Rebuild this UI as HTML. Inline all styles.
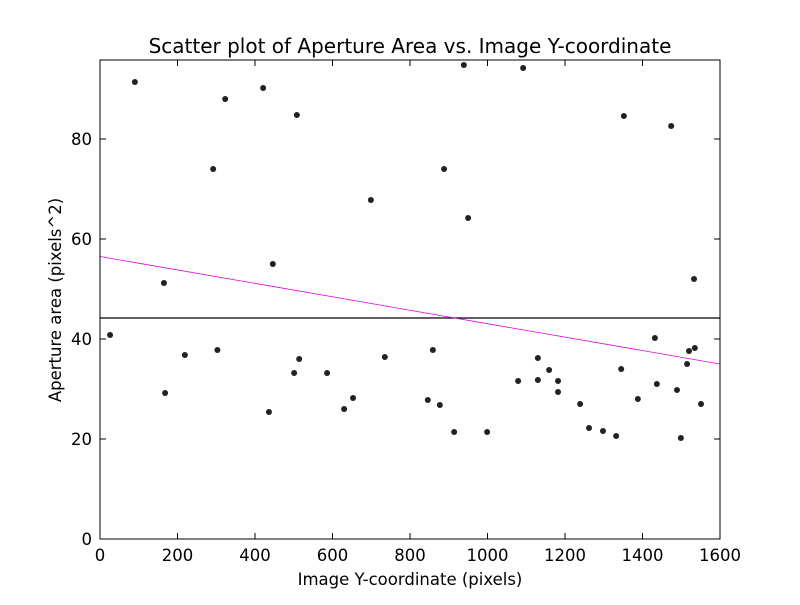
<!DOCTYPE html>
<html><head><meta charset="utf-8"><style>
body{margin:0;background:#fff;}
svg text{font-family:"DejaVu Sans","Liberation Sans",sans-serif;fill:#000;}
</style></head><body>
<svg id="chart" width="800" height="600">
<rect width="800" height="600" fill="#fff"/>
</svg>
<script>
const xValues=[26,90,165,168,219,292,303,323,421,436,446,508,514,501,586,630,653,699,735,846,859,877,888,914,939,950,999,1079,1092,1130,1130,1159,1182,1182,1239,1262,1298,1332,1345,1352,1388,1432,1437,1474,1489,1499,1515,1520,1533,1535,1551];
const yValues=[40.8,91.4,51.2,29.2,36.8,74,37.8,88,90.2,25.4,55,84.8,36,33.2,33.2,26,28.2,67.8,36.4,27.8,37.8,26.8,74,21.4,94.8,64.2,21.4,31.6,94.2,36.2,31.8,33.8,31.6,29.4,27,22.2,21.6,20.6,34,84.6,28,40.2,31,82.6,29.8,20.2,35,37.6,52,38.2,27];
const xTicks=[0,200,400,600,800,1000,1200,1400,1600];
const yTicks=[0,20,40,60,80];
const meanValue=[44.2];
const trendEnds=[56.5,35];
const NS="http://www.w3.org/2000/svg";
const svg=document.getElementById('chart');
const L=100,R=720,T=60,B=539;
const xS=v=>L+v*(R-L)/1600;
const yS=v=>B-v*5;
function mk(t,a){const e=document.createElementNS(NS,t);for(const k in a)e.setAttribute(k,a[k]);svg.appendChild(e);return e;}
let ml=mk('line',{x1:L,x2:R,y1:yS(meanValue[0]),y2:yS(meanValue[0]),stroke:'#000','stroke-width':1.2});


let tl=mk('line',{x1:xS(0),x2:xS(1600),y1:yS(trendEnds[0]),y2:yS(trendEnds[1]),stroke:'#e000e0','stroke-width':0.8});


for(let i=0;i<xValues.length;i++){
 const c=mk('circle',{cx:xS(xValues[i]),cy:yS(yValues[i]),r:3,fill:'#222'});
 
 
}
const fr=mk('rect',{x:L,y:T,width:R-L,height:B-T,fill:'none',stroke:'#000','stroke-width':1});


xTicks.forEach(v=>{
 const x=xS(v);
 mk('line',{x1:x,x2:x,y1:B,y2:B-6,stroke:'#000'});
 mk('line',{x1:x,x2:x,y1:T,y2:T+6,stroke:'#000'});
 const t=mk('text',{x:x,y:B+22,'text-anchor':'middle','font-size':16.5});
 t.textContent=v;
 
 
});
yTicks.forEach(v=>{
 const y=yS(v);
 mk('line',{x1:L,x2:L+6,y1:y,y2:y,stroke:'#000'});
 mk('line',{x1:R,x2:R-6,y1:y,y2:y,stroke:'#000'});
 const t=mk('text',{x:L-8,y:y+6,'text-anchor':'end','font-size':16.5});
 t.textContent=v;
 
 
});
let tt=mk('text',{x:410,y:53,'text-anchor':'middle','font-size':20});
tt.textContent='Scatter plot of Aperture Area vs. Image Y-coordinate';


let xt=mk('text',{x:410,y:585,'text-anchor':'middle','font-size':16.5});
xt.textContent='Image Y-coordinate (pixels)';


let yt=mk('text',{x:61,y:300,'text-anchor':'middle','font-size':16.5,transform:'rotate(-90 61 300)'});
yt.textContent='Aperture area (pixels^2)';


</script>
</body></html>
